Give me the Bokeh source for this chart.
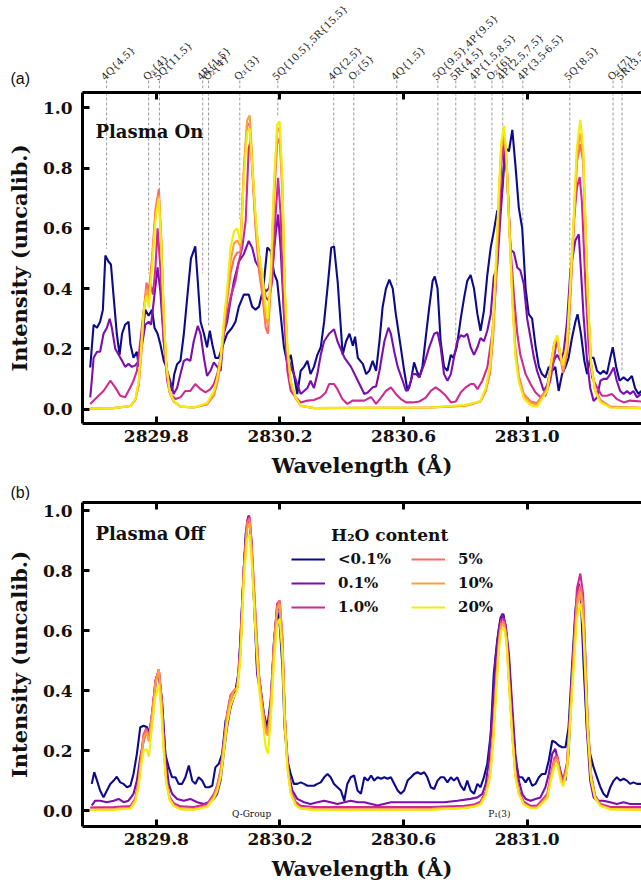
import numpy as np
from bokeh.plotting import figure
from bokeh.models import (Range1d, FixedTicker, PrintfTickFormatter, LinearAxis, Label,
                          Legend, LegendItem, CustomJSTickFormatter)
from bokeh.layouts import column
from bokeh.embed import file_html
from bokeh.resources import INLINE
from bokeh.core.properties import value

# ---------------- data ----------------
X_TICKS = [2829.8, 2830.2, 2830.6, 2831.0]
Y_TICKS = [0.0, 0.2, 0.4, 0.6, 0.8, 1.0]
SERIES_NAMES = ["<0.1%", "0.1%", "1.0%", "5%", "10%", "20%"]

LINE_WL = [2829.639, 2829.775, 2829.810, 2829.950, 2829.969, 2830.070, 2830.193, 2830.374, 2830.439,
           2830.578, 2830.711, 2830.769, 2830.831, 2830.886, 2830.921, 2830.986, 2831.138, 2831.278, 2831.307]
LINE_END = [0.532, 0.449, 0.724, 0.449, 0.276, 0.631, 0.967, 0.542, 0.259,
            0.402, 0.449, 0.199, 0.449, 0.664, 0.924, 0.601, 0.249, 0.219, 0.120]
LINE_LABELS = ["4Q{4.5}", "Q₃{4}", "5Q{11.5}", "4R{1.5}", "O₂{4}", "Q₃{3}", "5Q{10.5},5R{15.5}",
               "4Q{2.5}", "O₂{5}", "4Q{1.5}", "5Q{9.5},4P{9.5}", "5R{4.5}", "4P{1.5,8.5}", "O₂{6}",
               "4P{2.5,7.5}", "4P{3.5-6.5}", "5Q{8.5}", "O₂{7}", "5R{3.5}"]

WL_SMOOTH = [2829.586, 2829.662, 2829.716, 2829.732, 2829.743, 2829.751, 2829.759, 2829.768, 2829.776, 2829.786,
             2829.797, 2829.808, 2829.816, 2829.824, 2829.832, 2829.843, 2829.856, 2829.878, 2829.921, 2829.964,
             2829.986, 2829.997, 2830.008, 2830.018, 2830.029, 2830.040, 2830.051, 2830.062, 2830.072, 2830.083,
             2830.094, 2830.102, 2830.110, 2830.121, 2830.132, 2830.143, 2830.154, 2830.161, 2830.170, 2830.181,
             2830.191, 2830.199, 2830.208, 2830.215, 2830.224, 2830.235, 2830.251, 2830.267, 2830.310, 2830.688,
             2830.796, 2830.828, 2830.849, 2830.866, 2830.880, 2830.890, 2830.900, 2830.909, 2830.916, 2830.925,
             2830.933, 2830.941, 2830.952, 2830.962, 2830.973, 2830.989, 2831.011, 2831.032, 2831.065, 2831.077,
             2831.088, 2831.097, 2831.108, 2831.116, 2831.129, 2831.140, 2831.151, 2831.161, 2831.172, 2831.181,
             2831.188, 2831.196, 2831.207, 2831.220, 2831.237, 2831.269, 2831.369]

# ---- Plasma On (top panel) ----
Y_TOP_20 = [0.002, 0.003, 0.010, 0.033, 0.094, 0.205, 0.326, 0.376, 0.337, 0.470,
            0.624, 0.700, 0.536, 0.315, 0.150, 0.060, 0.028, 0.008, 0.005, 0.020,
            0.060, 0.105, 0.170, 0.290, 0.400, 0.536, 0.590, 0.600, 0.550, 0.757,
            0.920, 0.930, 0.810, 0.646, 0.514, 0.450, 0.337, 0.300, 0.450, 0.757,
            0.945, 0.955, 0.757, 0.425, 0.205, 0.094, 0.039, 0.011, 0.003, 0.005,
            0.013, 0.020, 0.027, 0.070, 0.145, 0.285, 0.520, 0.735, 0.885, 0.940,
            0.845, 0.625, 0.355, 0.170, 0.090, 0.035, 0.013, 0.008, 0.060, 0.145,
            0.220, 0.245, 0.180, 0.145, 0.220, 0.420, 0.645, 0.870, 0.960, 0.870,
            0.645, 0.380, 0.145, 0.060, 0.022, 0.005, 0.003]
Y_TOP_10 = [0.002, 0.003, 0.010, 0.031, 0.085, 0.190, 0.320, 0.400, 0.360, 0.480,
            0.640, 0.710, 0.550, 0.310, 0.145, 0.057, 0.026, 0.008, 0.005, 0.017,
            0.050, 0.095, 0.160, 0.270, 0.380, 0.490, 0.550, 0.560, 0.540, 0.800,
            0.960, 0.975, 0.840, 0.620, 0.490, 0.410, 0.300, 0.280, 0.420, 0.740,
            0.920, 0.935, 0.740, 0.410, 0.200, 0.090, 0.037, 0.011, 0.003, 0.005,
            0.012, 0.020, 0.026, 0.065, 0.130, 0.260, 0.490, 0.720, 0.870, 0.920,
            0.840, 0.640, 0.370, 0.190, 0.100, 0.045, 0.020, 0.015, 0.065, 0.150,
            0.220, 0.240, 0.175, 0.130, 0.200, 0.400, 0.630, 0.850, 0.915, 0.850,
            0.640, 0.380, 0.150, 0.060, 0.025, 0.006, 0.003]
Y_TOP_5 = [0.002, 0.003, 0.010, 0.030, 0.080, 0.180, 0.320, 0.420, 0.390, 0.500,
           0.660, 0.730, 0.560, 0.310, 0.140, 0.055, 0.025, 0.008, 0.005, 0.015,
           0.045, 0.085, 0.150, 0.260, 0.360, 0.450, 0.500, 0.520, 0.520, 0.780,
           0.950, 0.940, 0.800, 0.600, 0.460, 0.380, 0.270, 0.250, 0.400, 0.700,
           0.880, 0.900, 0.720, 0.400, 0.190, 0.085, 0.035, 0.011, 0.003, 0.005,
           0.010, 0.018, 0.025, 0.060, 0.120, 0.240, 0.460, 0.700, 0.860, 0.900,
           0.830, 0.640, 0.380, 0.200, 0.110, 0.050, 0.025, 0.020, 0.070, 0.150,
           0.220, 0.235, 0.170, 0.120, 0.180, 0.370, 0.600, 0.820, 0.880, 0.820,
           0.620, 0.370, 0.150, 0.065, 0.030, 0.008, 0.004]

WL_TOP_B = [2829.586, 2829.597, 2829.608, 2829.618, 2829.627, 2829.635, 2829.645, 2829.653, 2829.662, 2829.672,
            2829.681, 2829.689, 2829.699, 2829.710, 2829.716, 2829.726, 2829.737, 2829.743, 2829.754, 2829.764,
            2829.775, 2829.786, 2829.794, 2829.804, 2829.813, 2829.824, 2829.832, 2829.840, 2829.851, 2829.858,
            2829.867, 2829.878, 2829.889, 2829.899, 2829.912, 2829.926, 2829.934, 2829.943, 2829.954, 2829.964,
            2829.973, 2829.981, 2829.991, 2830.002, 2830.013, 2830.029, 2830.045, 2830.056, 2830.067, 2830.083,
            2830.099, 2830.110, 2830.121, 2830.132, 2830.146, 2830.159, 2830.170, 2830.181, 2830.191, 2830.202,
            2830.213, 2830.224, 2830.235, 2830.245, 2830.256, 2830.267, 2830.278, 2830.289, 2830.299, 2830.310,
            2830.321, 2830.332, 2830.343, 2830.356, 2830.366, 2830.375, 2830.387, 2830.403, 2830.414, 2830.425,
            2830.436, 2830.443, 2830.452, 2830.468, 2830.479, 2830.489, 2830.500, 2830.511, 2830.522, 2830.532,
            2830.543, 2830.554, 2830.565, 2830.575, 2830.591, 2830.602, 2830.613, 2830.624, 2830.634, 2830.643,
            2830.651, 2830.661, 2830.672, 2830.683, 2830.694, 2830.701, 2830.710, 2830.720, 2830.731, 2830.742,
            2830.753, 2830.761, 2830.772, 2830.785, 2830.796, 2830.806, 2830.817, 2830.828, 2830.839, 2830.849,
            2830.860, 2830.871, 2830.882, 2830.892, 2830.903, 2830.909, 2830.919, 2830.930, 2830.941, 2830.952,
            2830.962, 2830.973, 2830.984, 2830.995, 2831.005, 2831.016, 2831.027, 2831.038, 2831.048, 2831.059,
            2831.070, 2831.081, 2831.091, 2831.102, 2831.113, 2831.124, 2831.134, 2831.145, 2831.156, 2831.163,
            2831.174, 2831.185, 2831.194, 2831.204, 2831.215, 2831.226, 2831.237, 2831.247, 2831.258, 2831.269,
            2831.277, 2831.288, 2831.299, 2831.312, 2831.325, 2831.339, 2831.349, 2831.360, 2831.369]
Y_TOP_B = [0.138, 0.28, 0.27, 0.29, 0.33, 0.51, 0.49, 0.48, 0.37, 0.25,
           0.18, 0.25, 0.28, 0.29, 0.215, 0.17, 0.19, 0.14, 0.24, 0.33,
           0.31, 0.33, 0.27, 0.25, 0.215, 0.16, 0.14, 0.094, 0.06, 0.116,
           0.149, 0.16, 0.25, 0.36, 0.50, 0.54, 0.425, 0.29, 0.25, 0.205,
           0.26, 0.215, 0.17, 0.17, 0.205, 0.25, 0.27, 0.29, 0.34, 0.38,
           0.38, 0.34, 0.33, 0.34, 0.40, 0.536, 0.525, 0.45, 0.425, 0.315,
           0.205, 0.15, 0.18, 0.116, 0.05, 0.127, 0.14, 0.16, 0.116, 0.14,
           0.18, 0.205, 0.29, 0.425, 0.536, 0.54, 0.42, 0.18, 0.225, 0.25,
           0.21, 0.24, 0.17, 0.15, 0.116, 0.127, 0.16, 0.127, 0.225, 0.337,
           0.40, 0.43, 0.40, 0.315, 0.205, 0.127, 0.06, 0.094, 0.155, 0.127,
           0.105, 0.14, 0.24, 0.337, 0.425, 0.44, 0.40, 0.225, 0.14, 0.127,
           0.18, 0.17, 0.205, 0.30, 0.37, 0.425, 0.445, 0.40, 0.315, 0.26,
           0.326, 0.445, 0.536, 0.59, 0.657, 0.668, 0.735, 0.867, 0.856, 0.927,
           0.81, 0.668, 0.60, 0.40, 0.315, 0.30, 0.21, 0.14, 0.116, 0.105,
           0.14, 0.127, 0.14, 0.06, 0.116, 0.14, 0.17, 0.236, 0.29, 0.315,
           0.25, 0.16, 0.116, 0.17, 0.17, 0.127, 0.116, 0.127, 0.116, 0.17,
           0.205, 0.14, 0.094, 0.105, 0.094, 0.11, 0.07, 0.05, 0.06]

WL_TOP_P = [2829.586, 2829.591, 2829.597, 2829.608, 2829.618, 2829.629, 2829.640, 2829.649, 2829.656, 2829.667,
            2829.678, 2829.689, 2829.699, 2829.710, 2829.721, 2829.732, 2829.743, 2829.754, 2829.764, 2829.775,
            2829.783, 2829.794, 2829.804, 2829.813, 2829.824, 2829.835, 2829.845, 2829.856, 2829.867, 2829.878,
            2829.889, 2829.899, 2829.910, 2829.921, 2829.934, 2829.943, 2829.954, 2829.964, 2829.975, 2829.986,
            2829.997, 2830.008, 2830.018, 2830.029, 2830.040, 2830.051, 2830.067, 2830.083, 2830.099, 2830.110,
            2830.121, 2830.132, 2830.143, 2830.154, 2830.164, 2830.175, 2830.186, 2830.194, 2830.202, 2830.213,
            2830.224, 2830.235, 2830.245, 2830.256, 2830.267, 2830.278, 2830.289, 2830.299, 2830.310, 2830.321,
            2830.332, 2830.343, 2830.359, 2830.375, 2830.386, 2830.409, 2830.430, 2830.452, 2830.473, 2830.484,
            2830.500, 2830.511, 2830.522, 2830.538, 2830.551, 2830.559, 2830.570, 2830.581, 2830.597, 2830.608,
            2830.618, 2830.629, 2830.640, 2830.651, 2830.667, 2830.683, 2830.699, 2830.710, 2830.720, 2830.731,
            2830.742, 2830.753, 2830.763, 2830.774, 2830.785, 2830.796, 2830.806, 2830.817, 2830.828, 2830.839,
            2830.849, 2830.860, 2830.871, 2830.882, 2830.892, 2830.903, 2830.914, 2830.922, 2830.927, 2830.935,
            2830.946, 2830.957, 2830.968, 2830.978, 2830.989, 2831.000, 2831.011, 2831.022, 2831.032, 2831.043,
            2831.054, 2831.065, 2831.075, 2831.086, 2831.097, 2831.108, 2831.118, 2831.129, 2831.140, 2831.156,
            2831.167, 2831.174, 2831.183, 2831.194, 2831.204, 2831.215, 2831.226, 2831.237, 2831.247, 2831.258,
            2831.269, 2831.280, 2831.290, 2831.301, 2831.312, 2831.323, 2831.333, 2831.344, 2831.355, 2831.369]
Y_TOP_P = [0.039, 0.094, 0.17, 0.19, 0.19, 0.25, 0.27, 0.30, 0.27, 0.20,
           0.18, 0.16, 0.14, 0.15, 0.14, 0.145, 0.16, 0.215, 0.28, 0.29,
           0.28, 0.38, 0.47, 0.39, 0.225, 0.127, 0.094, 0.05, 0.07, 0.116,
           0.16, 0.166, 0.16, 0.225, 0.276, 0.25, 0.17, 0.11, 0.127, 0.155,
           0.14, 0.127, 0.25, 0.29, 0.36, 0.425, 0.49, 0.514, 0.558, 0.536,
           0.49, 0.47, 0.41, 0.39, 0.40, 0.46, 0.58, 0.646, 0.536, 0.315,
           0.18, 0.14, 0.116, 0.083, 0.05, 0.06, 0.07, 0.094, 0.07, 0.116,
           0.18, 0.225, 0.25, 0.265, 0.225, 0.17, 0.14, 0.094, 0.05, 0.055,
           0.072, 0.075, 0.127, 0.225, 0.27, 0.25, 0.19, 0.14, 0.094, 0.06,
           0.07, 0.116, 0.116, 0.105, 0.15, 0.205, 0.25, 0.255, 0.205, 0.116,
           0.094, 0.116, 0.17, 0.225, 0.245, 0.24, 0.25, 0.205, 0.18, 0.205,
           0.236, 0.225, 0.26, 0.315, 0.44, 0.47, 0.646, 0.755, 0.87, 0.78,
           0.53, 0.52, 0.47, 0.46, 0.415, 0.30, 0.236, 0.17, 0.127, 0.094,
           0.06, 0.08, 0.127, 0.16, 0.18, 0.16, 0.19, 0.29, 0.46, 0.56,
           0.58, 0.46, 0.30, 0.16, 0.07, 0.027, 0.038, 0.094, 0.10, 0.10,
           0.116, 0.138, 0.094, 0.06, 0.05, 0.06, 0.05, 0.06, 0.039, 0.05]

WL_TOP_M = [2829.586, 2829.608, 2829.629, 2829.651, 2829.667, 2829.683, 2829.699, 2829.716, 2829.726, 2829.737,
            2829.748, 2829.759, 2829.770, 2829.781, 2829.789, 2829.797, 2829.804, 2829.813, 2829.824, 2829.835,
            2829.845, 2829.862, 2829.878, 2829.894, 2829.910, 2829.926, 2829.943, 2829.959, 2829.975, 2829.986,
            2829.997, 2830.008, 2830.018, 2830.029, 2830.040, 2830.056, 2830.067, 2830.078, 2830.089, 2830.099,
            2830.105, 2830.110, 2830.121, 2830.132, 2830.143, 2830.154, 2830.164, 2830.175, 2830.186, 2830.194,
            2830.202, 2830.213, 2830.224, 2830.235, 2830.251, 2830.267, 2830.289, 2830.310, 2830.332, 2830.348,
            2830.359, 2830.375, 2830.386, 2830.402, 2830.418, 2830.435, 2830.451, 2830.473, 2830.495, 2830.511,
            2830.527, 2830.543, 2830.559, 2830.575, 2830.591, 2830.608, 2830.629, 2830.651, 2830.672, 2830.688,
            2830.704, 2830.720, 2830.737, 2830.753, 2830.769, 2830.785, 2830.801, 2830.817, 2830.828, 2830.839,
            2830.855, 2830.871, 2830.887, 2830.898, 2830.909, 2830.916, 2830.923, 2830.927, 2830.935, 2830.946,
            2830.957, 2830.968, 2830.978, 2830.995, 2831.011, 2831.027, 2831.043, 2831.059, 2831.075, 2831.086,
            2831.097, 2831.108, 2831.118, 2831.129, 2831.140, 2831.151, 2831.161, 2831.170, 2831.177, 2831.188,
            2831.199, 2831.210, 2831.226, 2831.242, 2831.258, 2831.274, 2831.290, 2831.312, 2831.333, 2831.369]
Y_TOP_M = [0.017, 0.039, 0.06, 0.094, 0.072, 0.044, 0.039, 0.072, 0.094, 0.127,
           0.225, 0.326, 0.403, 0.414, 0.38, 0.47, 0.60, 0.47, 0.225, 0.094,
           0.05, 0.033, 0.039, 0.06, 0.06, 0.083, 0.066, 0.055, 0.066, 0.083,
           0.116, 0.17, 0.25, 0.315, 0.37, 0.425, 0.49, 0.536, 0.624, 0.867,
           0.89, 0.81, 0.624, 0.514, 0.425, 0.37, 0.36, 0.425, 0.646, 0.768,
           0.646, 0.315, 0.127, 0.06, 0.039, 0.022, 0.028, 0.03, 0.039, 0.055,
           0.083, 0.083, 0.066, 0.033, 0.017, 0.028, 0.028, 0.028, 0.04, 0.017,
           0.038, 0.06, 0.072, 0.05, 0.033, 0.022, 0.022, 0.025, 0.038, 0.06,
           0.072, 0.06, 0.044, 0.022, 0.025, 0.055, 0.072, 0.083, 0.083, 0.066,
           0.094, 0.138, 0.25, 0.40, 0.61, 0.81, 0.88, 0.89, 0.78, 0.536,
           0.38, 0.25, 0.18, 0.116, 0.083, 0.055, 0.04, 0.044, 0.094, 0.16,
           0.236, 0.18, 0.138, 0.225, 0.40, 0.624, 0.735, 0.77, 0.69, 0.425,
           0.205, 0.105, 0.072, 0.044, 0.044, 0.05, 0.033, 0.022, 0.028, 0.025]

# ---- Plasma Off (bottom panel) ----
Y_BOT_20 = [0.002, 0.003, 0.006, 0.030, 0.080, 0.150, 0.200, 0.205, 0.180, 0.280,
            0.380, 0.420, 0.330, 0.190, 0.090, 0.035, 0.015, 0.004, 0.003, 0.012,
            0.040, 0.065, 0.110, 0.190, 0.290, 0.350, 0.380, 0.400, 0.500, 0.770,
            0.905, 0.920, 0.800, 0.590, 0.410, 0.310, 0.210, 0.190, 0.300, 0.500,
            0.620, 0.640, 0.520, 0.300, 0.140, 0.055, 0.017, 0.006, 0.002, 0.003,
            0.008, 0.013, 0.020, 0.050, 0.110, 0.220, 0.400, 0.540, 0.600, 0.610,
            0.560, 0.420, 0.240, 0.110, 0.055, 0.020, 0.008, 0.008, 0.040, 0.100,
            0.145, 0.155, 0.100, 0.080, 0.130, 0.300, 0.480, 0.640, 0.690, 0.620,
            0.460, 0.260, 0.100, 0.040, 0.015, 0.004, 0.003]
Y_BOT_10 = [0.003, 0.004, 0.008, 0.035, 0.095, 0.170, 0.240, 0.260, 0.230, 0.310,
            0.420, 0.470, 0.370, 0.210, 0.100, 0.040, 0.017, 0.005, 0.004, 0.014,
            0.045, 0.075, 0.125, 0.210, 0.310, 0.370, 0.400, 0.410, 0.520, 0.790,
            0.940, 0.960, 0.840, 0.620, 0.440, 0.340, 0.260, 0.250, 0.340, 0.550,
            0.670, 0.690, 0.560, 0.320, 0.150, 0.060, 0.020, 0.007, 0.003, 0.004,
            0.009, 0.014, 0.022, 0.055, 0.120, 0.240, 0.420, 0.560, 0.615, 0.620,
            0.570, 0.430, 0.250, 0.115, 0.058, 0.022, 0.009, 0.009, 0.045, 0.110,
            0.160, 0.170, 0.110, 0.085, 0.140, 0.320, 0.510, 0.680, 0.730, 0.660,
            0.490, 0.280, 0.110, 0.045, 0.017, 0.005, 0.003]
Y_BOT_5 = [0.004, 0.005, 0.009, 0.036, 0.100, 0.180, 0.250, 0.270, 0.240, 0.320,
           0.430, 0.470, 0.375, 0.215, 0.100, 0.040, 0.018, 0.006, 0.005, 0.015,
           0.048, 0.080, 0.130, 0.220, 0.320, 0.380, 0.400, 0.410, 0.530, 0.800,
           0.960, 0.975, 0.850, 0.640, 0.450, 0.350, 0.270, 0.260, 0.350, 0.560,
           0.680, 0.700, 0.570, 0.330, 0.155, 0.062, 0.022, 0.008, 0.004, 0.005,
           0.010, 0.015, 0.024, 0.058, 0.125, 0.250, 0.430, 0.570, 0.625, 0.630,
           0.580, 0.440, 0.255, 0.120, 0.060, 0.024, 0.010, 0.010, 0.050, 0.115,
           0.170, 0.180, 0.115, 0.090, 0.150, 0.330, 0.530, 0.700, 0.750, 0.690,
           0.510, 0.290, 0.115, 0.047, 0.018, 0.006, 0.004]
Y_BOT_1 = [0.010, 0.012, 0.015, 0.040, 0.105, 0.185, 0.255, 0.275, 0.245, 0.325,
           0.430, 0.470, 0.380, 0.220, 0.105, 0.045, 0.025, 0.014, 0.012, 0.022,
           0.055, 0.085, 0.135, 0.225, 0.325, 0.385, 0.400, 0.410, 0.540, 0.810,
           0.965, 0.980, 0.860, 0.650, 0.455, 0.355, 0.275, 0.265, 0.355, 0.565,
           0.690, 0.700, 0.575, 0.335, 0.160, 0.068, 0.028, 0.016, 0.012, 0.012,
           0.016, 0.020, 0.030, 0.062, 0.130, 0.255, 0.440, 0.580, 0.635, 0.640,
           0.590, 0.450, 0.260, 0.125, 0.065, 0.030, 0.016, 0.016, 0.055, 0.120,
           0.175, 0.185, 0.120, 0.100, 0.160, 0.350, 0.560, 0.740, 0.790, 0.720,
           0.530, 0.300, 0.120, 0.050, 0.022, 0.012, 0.012]

WL_BOT_B = [2829.591, 2829.599, 2829.608, 2829.618, 2829.629, 2829.640, 2829.651, 2829.662, 2829.672, 2829.683,
            2829.694, 2829.705, 2829.716, 2829.726, 2829.737, 2829.748, 2829.759, 2829.770, 2829.778, 2829.789,
            2829.800, 2829.808, 2829.818, 2829.829, 2829.840, 2829.851, 2829.862, 2829.872, 2829.883, 2829.894,
            2829.905, 2829.916, 2829.926, 2829.937, 2829.948, 2829.959, 2829.970, 2829.981, 2829.991, 2830.002,
            2830.013, 2830.024, 2830.035, 2830.045, 2830.056, 2830.067, 2830.078, 2830.089, 2830.099, 2830.107,
            2830.116, 2830.126, 2830.137, 2830.148, 2830.159, 2830.170, 2830.181, 2830.191, 2830.200, 2830.208,
            2830.215, 2830.224, 2830.235, 2830.245, 2830.256, 2830.267, 2830.278, 2830.289, 2830.299, 2830.310,
            2830.321, 2830.332, 2830.343, 2830.354, 2830.364, 2830.375, 2830.386, 2830.397, 2830.408, 2830.418,
            2830.429, 2830.440, 2830.451, 2830.462, 2830.473, 2830.484, 2830.495, 2830.505, 2830.516, 2830.527,
            2830.538, 2830.548, 2830.559, 2830.570, 2830.581, 2830.591, 2830.602, 2830.613, 2830.624, 2830.634,
            2830.645, 2830.656, 2830.667, 2830.677, 2830.688, 2830.699, 2830.710, 2830.720, 2830.731, 2830.742,
            2830.753, 2830.763, 2830.774, 2830.785, 2830.796, 2830.806, 2830.817, 2830.828, 2830.839, 2830.849,
            2830.860, 2830.871, 2830.882, 2830.892, 2830.903, 2830.914, 2830.923, 2830.930, 2830.941, 2830.952,
            2830.962, 2830.973, 2830.984, 2830.995, 2831.005, 2831.016, 2831.027, 2831.038, 2831.048, 2831.059,
            2831.070, 2831.081, 2831.091, 2831.102, 2831.113, 2831.124, 2831.134, 2831.145, 2831.156, 2831.167,
            2831.174, 2831.183, 2831.194, 2831.204, 2831.215, 2831.226, 2831.237, 2831.247, 2831.258, 2831.269,
            2831.280, 2831.290, 2831.301, 2831.312, 2831.323, 2831.333, 2831.344, 2831.355, 2831.369]
Y_BOT_B = [0.089, 0.128, 0.10, 0.067, 0.044, 0.067, 0.089, 0.10, 0.113, 0.094,
           0.089, 0.078, 0.083, 0.122, 0.189, 0.278, 0.283, 0.278, 0.256, 0.344,
           0.444, 0.45, 0.367, 0.189, 0.144, 0.111, 0.111, 0.089, 0.089, 0.111,
           0.15, 0.10, 0.089, 0.111, 0.10, 0.078, 0.078, 0.083, 0.144, 0.156,
           0.189, 0.30, 0.322, 0.367, 0.40, 0.467, 0.70, 0.922, 0.983, 0.90,
           0.70, 0.478, 0.411, 0.322, 0.278, 0.367, 0.567, 0.667, 0.61, 0.478,
           0.278, 0.167, 0.122, 0.089, 0.089, 0.094, 0.089, 0.083, 0.083, 0.083,
           0.089, 0.094, 0.111, 0.122, 0.111, 0.089, 0.078, 0.067, 0.033, 0.089,
           0.111, 0.117, 0.067, 0.056, 0.111, 0.10, 0.117, 0.10, 0.111, 0.106,
           0.111, 0.106, 0.111, 0.089, 0.067, 0.056, 0.067, 0.10, 0.111, 0.122,
           0.128, 0.122, 0.128, 0.111, 0.078, 0.072, 0.10, 0.111, 0.111, 0.094,
           0.111, 0.10, 0.111, 0.083, 0.067, 0.10, 0.067, 0.056, 0.089, 0.078,
           0.111, 0.156, 0.256, 0.456, 0.567, 0.644, 0.656, 0.611, 0.50, 0.311,
           0.167, 0.111, 0.111, 0.094, 0.111, 0.083, 0.089, 0.111, 0.122, 0.122,
           0.167, 0.233, 0.228, 0.217, 0.211, 0.211, 0.278, 0.478, 0.667, 0.756,
           0.70, 0.478, 0.256, 0.189, 0.144, 0.111, 0.078, 0.056, 0.044, 0.078,
           0.10, 0.111, 0.10, 0.106, 0.10, 0.089, 0.094, 0.089, 0.089]

WL_BOT_P = [2829.591, 2829.602, 2829.618, 2829.640, 2829.662, 2829.678, 2829.694, 2829.710, 2829.726, 2829.737,
            2829.748, 2829.759, 2829.768, 2829.776, 2829.786, 2829.797, 2829.808, 2829.818, 2829.829, 2829.840,
            2829.851, 2829.867, 2829.889, 2829.910, 2829.932, 2829.954, 2829.970, 2829.986, 2829.997, 2830.008,
            2830.018, 2830.029, 2830.040, 2830.051, 2830.062, 2830.072, 2830.083, 2830.094, 2830.099, 2830.107,
            2830.116, 2830.126, 2830.137, 2830.148, 2830.159, 2830.170, 2830.181, 2830.191, 2830.200, 2830.208,
            2830.218, 2830.229, 2830.240, 2830.256, 2830.278, 2830.299, 2830.321, 2830.343, 2830.364, 2830.386,
            2830.408, 2830.429, 2830.451, 2830.473, 2830.516, 2830.559, 2830.602, 2830.645, 2830.688, 2830.731,
            2830.774, 2830.817, 2830.839, 2830.855, 2830.866, 2830.876, 2830.887, 2830.898, 2830.909, 2830.919,
            2830.930, 2830.941, 2830.952, 2830.962, 2830.973, 2830.984, 2830.995, 2831.011, 2831.027, 2831.043,
            2831.059, 2831.070, 2831.081, 2831.091, 2831.102, 2831.113, 2831.124, 2831.134, 2831.145, 2831.156,
            2831.167, 2831.174, 2831.183, 2831.194, 2831.204, 2831.215, 2831.226, 2831.247, 2831.269, 2831.290,
            2831.312, 2831.333, 2831.369]
Y_BOT_P = [0.017, 0.033, 0.033, 0.028, 0.033, 0.039, 0.028, 0.033, 0.056, 0.10,
           0.178, 0.233, 0.267, 0.244, 0.311, 0.433, 0.467, 0.367, 0.189, 0.089,
           0.056, 0.039, 0.033, 0.039, 0.028, 0.022, 0.028, 0.039, 0.056, 0.10,
           0.189, 0.278, 0.344, 0.378, 0.411, 0.567, 0.811, 0.967, 0.983, 0.911,
           0.70, 0.456, 0.389, 0.311, 0.256, 0.322, 0.567, 0.678, 0.667, 0.533,
           0.256, 0.122, 0.067, 0.039, 0.028, 0.022, 0.028, 0.033, 0.028, 0.022,
           0.028, 0.033, 0.028, 0.028, 0.017, 0.028, 0.028, 0.028, 0.028, 0.028,
           0.033, 0.039, 0.044, 0.056, 0.089, 0.167, 0.322, 0.511, 0.611, 0.656,
           0.622, 0.522, 0.344, 0.189, 0.10, 0.056, 0.039, 0.033, 0.039, 0.044,
           0.078, 0.122, 0.189, 0.206, 0.156, 0.111, 0.10, 0.189, 0.422, 0.644,
           0.756, 0.722, 0.533, 0.256, 0.10, 0.044, 0.033, 0.033, 0.028, 0.022,
           0.028, 0.022, 0.022]

# ---------------- styling ----------------
COLORS = ["#0d0a8c", "#7b0ead", "#cc2b94", "#ff6b66", "#ffa03a", "#f0ee0a"]
SERIF = "DejaVu Serif"
W = 641
LEFT = 82
XMIN, XMAX = 2829.561, 2831.370
x_range = Range1d(XMIN, XMAX)
PX_PER = (W - LEFT) / (XMAX - XMIN)
XA_MIN = XMIN - LEFT / PX_PER


def style_panel(p):
    p.outline_line_color = None
    p.grid.visible = False
    for ax in list(p.xaxis) + list(p.yaxis):
        ax.axis_line_width = 3
        ax.major_tick_in = 7
        ax.major_tick_out = 0
        ax.major_tick_line_width = 3
        ax.minor_tick_line_color = None
        ax.major_label_text_font = SERIF
        ax.major_label_text_font_style = "bold"
        ax.major_label_text_font_size = "17px"
        ax.major_label_text_color = "#111111"
        ax.axis_label_text_font = SERIF
        ax.axis_label_text_font_style = "bold"
        ax.axis_label_text_font_size = "21px"
        ax.axis_label_text_color = "#111111"
        ax.formatter = PrintfTickFormatter(format="%.1f")
    p.xaxis.ticker = FixedTicker(ticks=X_TICKS)
    p.yaxis.ticker = FixedTicker(ticks=Y_TICKS)
    p.xaxis.major_label_standoff = 6
    p.xaxis.axis_label_standoff = 8
    p.yaxis.major_label_standoff = 10
    p.yaxis.axis_label_standoff = 8
    top = LinearAxis(ticker=FixedTicker(ticks=X_TICKS), axis_line_width=3, major_tick_in=7,
                     major_tick_out=0, major_tick_line_width=3, minor_tick_line_color=None,
                     formatter=CustomJSTickFormatter(code="return ''"), major_label_standoff=0)
    p.add_layout(top, "above")


def make_panel(height, ylo, yhi, mtop, mbot):
    p = figure(width=W, height=height, x_range=x_range, y_range=Range1d(ylo, yhi),
               output_backend="svg", toolbar_location=None,
               min_border_left=LEFT, min_border_right=0, min_border_top=mtop, min_border_bottom=mbot,
               x_axis_label="Wavelength (Å)", y_axis_label="Intensity (uncalib.)")
    style_panel(p)
    return p


def make_strip(height, xr):
    s = figure(width=W, height=height, x_range=xr, y_range=Range1d(0, 1),
               x_axis_location=None, y_axis_location=None, output_backend="svg",
               toolbar_location=None, min_border_left=0, min_border_right=0,
               min_border_top=0, min_border_bottom=0)
    s.outline_line_color = None
    s.grid.visible = False
    try:
        s.frame_align = False
    except Exception:
        pass
    return s


# ---------- annotation strip (a) ----------
pl = make_strip(88, Range1d(XA_MIN, XMAX))
pl.segment(x0=LINE_WL, y0=[0.0] * len(LINE_WL), x1=LINE_WL, y1=[0.115] * len(LINE_WL),
           line_color="#808080", line_width=0.8, line_dash="3 2")
pl.text(x=LINE_WL, y=[0.068] * len(LINE_WL), text=LINE_LABELS, angle=45, angle_units="deg",
        text_align="left", text_baseline="bottom", text_font=value(SERIF),
        text_font_size=value("10px"), text_color="#222222")
pl.text(x=[XA_MIN + 10 / PX_PER], y=[0.02], text=["(a)"], text_align="left", text_baseline="bottom",
        text_font=value("Liberation Sans"), text_font_size=value("16px"), text_color="#111111")

# ---------- top panel: Plasma On ----------
YT_LO, YT_HI = -0.048, 1.051
pt = make_panel(396, YT_LO, YT_HI, 4, 61)
pt.segment(x0=LINE_WL, y0=[YT_HI] * len(LINE_WL), x1=LINE_WL, y1=LINE_END,
           line_color="#808080", line_width=0.8, line_dash="3 2")
top_series = [(WL_TOP_B, Y_TOP_B), (WL_TOP_P, Y_TOP_P), (WL_TOP_M, Y_TOP_M),
              (WL_SMOOTH, Y_TOP_5), (WL_SMOOTH, Y_TOP_10), (WL_SMOOTH, Y_TOP_20)]
for (xs, ys), c in zip(top_series, COLORS):
    pt.line(xs, ys, line_color=c, line_width=2.1)
pt.add_layout(Label(x=2829.603, y=0.92, text="Plasma On", text_font=SERIF,
                    text_font_style="bold", text_font_size="18px", text_color="#111111",
                    text_baseline="middle"))

# ---------- strip (b) ----------
pmid = make_strip(16, Range1d(XA_MIN, XMAX))
pmid.text(x=[XA_MIN + 10 / PX_PER], y=[0.0], text=["(b)"], text_align="left", text_baseline="bottom",
          text_font=value("Liberation Sans"), text_font_size=value("16px"), text_color="#111111")

# ---------- bottom panel: Plasma Off ----------
YB_LO, YB_HI = -0.053, 1.027
pb = make_panel(384, YB_LO, YB_HI, 2, 58)
bot_series = [(WL_BOT_B, Y_BOT_B), (WL_BOT_P, Y_BOT_P), (WL_SMOOTH, Y_BOT_1),
              (WL_SMOOTH, Y_BOT_5), (WL_SMOOTH, Y_BOT_10), (WL_SMOOTH, Y_BOT_20)]
renderers = []
for (xs, ys), c in zip(bot_series, COLORS):
    renderers.append(pb.line(xs, ys, line_color=c, line_width=2.1))
pb.add_layout(Label(x=2829.603, y=0.923, text="Plasma Off", text_font=SERIF,
                    text_font_style="bold", text_font_size="18px", text_color="#111111",
                    text_baseline="middle"))
pb.add_layout(Label(x=2830.108, y=-0.010, text="Q-Group", text_font=SERIF,
                    text_font_size="9px", text_color="#111111", text_align="center",
                    text_baseline="middle"))
pb.add_layout(Label(x=2830.910, y=-0.010, text="P₁(3)", text_font=SERIF,
                    text_font_size="9px", text_color="#111111", text_align="center",
                    text_baseline="middle"))
pb.add_layout(Label(x=2830.555, y=0.92, text="H₂O content", text_font=SERIF,
                    text_font_style="bold", text_font_size="17px", text_color="#111111",
                    text_align="center", text_baseline="middle"))


def make_legend(items, loc):
    return Legend(items=items, location=loc, orientation="vertical", glyph_width=34,
                  glyph_height=20, label_height=20, label_standoff=13, spacing=4, padding=0,
                  margin=0, border_line_color=None, background_fill_alpha=0,
                  label_text_font=SERIF, label_text_font_style="bold",
                  label_text_font_size="15px", label_text_color="#111111")


LEG_Y = 826 - 617
leg_a = make_legend([LegendItem(label=SERIES_NAMES[i], renderers=[renderers[i]]) for i in range(3)],
                    (209, LEG_Y))
leg_b = make_legend([LegendItem(label=SERIES_NAMES[i], renderers=[renderers[i]]) for i in range(3, 6)],
                    (329, LEG_Y))
pb.add_layout(leg_a)
pb.add_layout(leg_b)

layout = column(pl, pt, pmid, pb, spacing=0)
open("out.html", "w").write(file_html(layout, INLINE))
